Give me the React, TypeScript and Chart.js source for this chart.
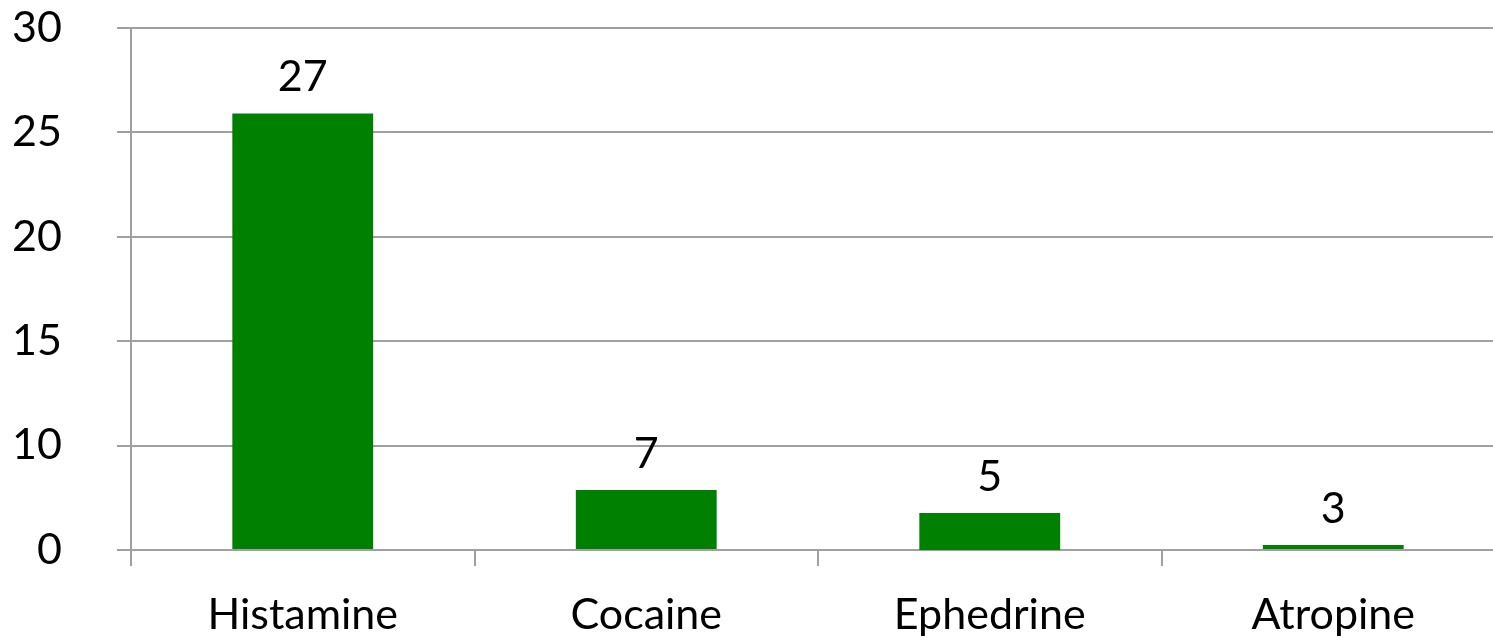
import React, { useEffect, useRef } from "react";
import { Chart, registerables } from "chart.js";

Chart.register(...registerables);

// Categories
const categories = ["Histamine", "Cocaine", "Ephedrine", "Atropine"];
// Bar extents as drawn (in axis grid units)
const barBottoms = [0, 0, -0.17, 0];
const barTops = [20.9, 2.87, 1.77, 0.24];
// Value labels printed above the bars
const valueLabels = ["27", "7", "5", "3"];
// Y-axis tick labels, bottom to top
const yTickLabels = ["0", "10", "15", "20", "25", "30"];

const FONT = "Lato, 'Open Sans', sans-serif";
const GRID = "#a0a0a0";
const GREEN = "#008000";

const valueLabelPlugin = {
  id: "valueLabels",
  afterDatasetsDraw(chart: any) {
    const ctx = chart.ctx;
    const meta = chart.getDatasetMeta(0);
    ctx.save();
    ctx.font = `43px ${FONT}`;
    ctx.fillStyle = "#000";
    ctx.textAlign = "center";
    ctx.textBaseline = "middle";
    meta.data.forEach((bar: any, i: number) => {
      const top = Math.min(bar.y, bar.base);
      ctx.fillText(valueLabels[i], bar.x, top - 36);
    });
    ctx.restore();
  },
};

export default function App() {
  const ref = useRef<HTMLCanvasElement>(null);
  useEffect(() => {
    if (!ref.current) return;
    const chart = new Chart(ref.current, {
      type: "bar",
      data: {
        labels: categories,
        datasets: [
          {
            data: categories.map((_, i) => [barBottoms[i], barTops[i]]) as any,
            backgroundColor: GREEN,
            borderWidth: 0,
            barPercentage: 0.41,
            categoryPercentage: 1,
          },
        ],
      },
      options: {
        responsive: false,
        animation: false,
        layout: { padding: { top: 0, right: 15, left: 0, bottom: 0 } },
        plugins: { legend: { display: false }, tooltip: { enabled: false } },
        scales: {
          x: {
            offset: true,
            grid: {
              display: true,
              offset: true,
              drawOnChartArea: false,
              drawTicks: true,
              tickLength: 16,
              color: GRID,
              lineWidth: 2,
            },
            border: { display: false },
            ticks: {
              color: "#000",
              font: { family: FONT, size: 43 },
              padding: 23,
              maxRotation: 0,
            },
            afterFit: (s: any) => {
              s.height = 91;
            },
          },
          y: {
            min: 0,
            max: 25,
            grid: { color: GRID, lineWidth: 2, tickLength: 14, drawTicks: true },
            border: { display: true, color: GRID, width: 2 },
            ticks: {
              stepSize: 5,
              color: "#000",
              font: { family: FONT, size: 43 },
              padding: 55,
              callback: (_v: any, i: number) => yTickLabels[i],
            },
            afterFit: (s: any) => {
              s.width = 131;
            },
          },
        },
      },
      plugins: [valueLabelPlugin],
    });
    return () => chart.destroy();
  }, []);

  return (
    <div
      style={{
        position: "fixed",
        left: 0,
        top: 0,
        width: 1493,
        height: 641,
        overflow: "hidden",
        background: "#fff",
      }}
    >
      <canvas
        ref={ref}
        width={1520}
        height={694}
        style={{ display: "block", marginTop: -53 }}
      />
    </div>
  );
}
